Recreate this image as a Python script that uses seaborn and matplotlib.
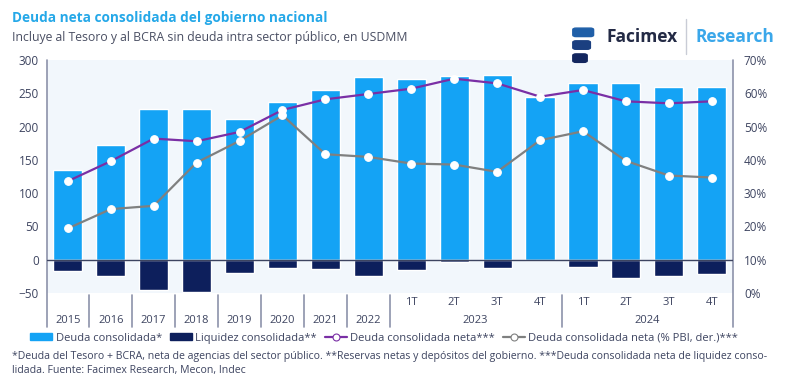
import numpy as np
import pandas as pd
import matplotlib
matplotlib.use('Agg')
import matplotlib.pyplot as plt
from matplotlib.lines import Line2D
from matplotlib.patches import Patch, FancyBboxPatch
import matplotlib.transforms as mtransforms
import seaborn as sns

# ---------------- datos ----------------
periodos = ['2015', '2016', '2017', '2018', '2019', '2020', '2021', '2022',
            '2023-1T', '2023-2T', '2023-3T', '2023-4T',
            '2024-1T', '2024-2T', '2024-3T', '2024-4T']
etiquetas_anuales = ['2015', '2016', '2017', '2018', '2019', '2020', '2021', '2022']
etiquetas_trim = ['1T', '2T', '3T', '4T', '1T', '2T', '3T', '4T']
anios_trim = ['2023', '2024']

deuda = [135, 173, 227, 226, 212, 237, 255, 274,
         272, 276, 277, 245, 266, 266, 259, 259]
liquidez = [-17, -25, -45, -48, -20, -12, -14, -25,
            -15, -4, -12, 0, -11, -28, -24, -21]
deuda_neta = [118, 148, 182, 178, 192, 225, 241, 249,
              257, 272, 265, 245, 255, 238, 235, 238]
deuda_pbi = [19.4, 25.2, 26.2, 39.2, 45.7, 53.4, 41.7, 40.9,
             38.9, 38.6, 36.4, 45.9, 48.6, 39.7, 35.3, 34.7]

df = pd.DataFrame({'periodo': periodos, 'deuda': deuda, 'liquidez': liquidez})
pos = np.arange(len(periodos))

# ---------------- estilo ----------------
AZUL = '#14a3f5'
NAVY = '#0d1f5c'
VIOLETA = '#7a2fa5'
GRIS = '#7f8080'
TEXTO = '#3d4460'
EJE = '#8c92aa'
FONDO = '#f2f7fc'

sns.set_style('white')
plt.rcParams['font.family'] = ['Open Sans', 'DejaVu Sans']

fig = plt.figure(figsize=(8, 3.85), dpi=100)
ax = fig.add_axes([0.059, 0.239, 0.857, 0.605])
ax.set_facecolor(FONDO)

sns.barplot(data=df, x='periodo', y='deuda', color=AZUL, width=0.68,
            saturation=1, ax=ax, zorder=2)
sns.barplot(data=df, x='periodo', y='liquidez', color=NAVY, width=0.68,
            saturation=1, ax=ax, zorder=2)
ax.axhline(0, color=TEXTO, lw=1, zorder=3)

sns.lineplot(x=pos, y=deuda_neta, color=VIOLETA, lw=1.6, marker='o',
             markersize=5.5, markerfacecolor='white', markeredgecolor='white',
             markeredgewidth=0.8, ax=ax, zorder=4)

ax.set_xlim(-0.48, 15.49)
ax.set_ylim(-50, 300)
ax.set_yticks(np.arange(-50, 301, 50))
ax.set_xticks([])
ax.set_xlabel('')
ax.set_ylabel('')
ax.tick_params(axis='y', length=0, pad=6, labelsize=8.5, labelcolor=TEXTO)
for s in ax.spines.values():
    s.set_visible(False)

ax2 = ax.twinx()
sns.lineplot(x=pos, y=deuda_pbi, color=GRIS, lw=1.6, marker='o',
             markersize=5.5, markerfacecolor='white', markeredgecolor='white',
             markeredgewidth=0.8, ax=ax2, zorder=4)
ax2.set_ylim(0, 70)
ax2.set_yticks(np.arange(0, 71, 10))
ax2.set_yticklabels([f'{v}%' for v in range(0, 71, 10)])
ax2.tick_params(axis='y', length=0, pad=8, labelsize=8.5, labelcolor=TEXTO)
for s in ax2.spines.values():
    s.set_visible(False)
ax2.set_xlim(ax.get_xlim())

# ---------------- eje de categorías ----------------
trans = mtransforms.blended_transform_factory(ax.transData, ax.transAxes)
abajo = -0.146
for xb in [-0.48, 15.49]:
    ax.add_line(Line2D([xb, xb], [abajo, 1.0], transform=trans, color=EJE,
                       lw=1.2, clip_on=False))
for xb in np.arange(0.5, 8.0, 1.0):
    ax.add_line(Line2D([xb, xb], [abajo, -0.01], transform=trans, color=EJE,
                       lw=1.2, clip_on=False))
ax.add_line(Line2D([11.5, 11.5], [abajo, -0.01], transform=trans, color=EJE,
                   lw=1.2, clip_on=False))

for i, lab in enumerate(etiquetas_anuales):
    ax.text(i, -0.12, lab, transform=trans, ha='center', va='center',
            fontsize=8, color=TEXTO)
for i, lab in enumerate(etiquetas_trim):
    ax.text(8 + i, -0.04, lab, transform=trans, ha='center', va='center',
            fontsize=8, color=TEXTO)
for j, lab in enumerate(anios_trim):
    ax.text(9.5 + 4 * j, -0.12, lab, transform=trans, ha='center',
            va='center', fontsize=8, color=TEXTO)

# ---------------- leyenda ----------------
handles = [
    Patch(color=AZUL, label='Deuda consolidada*'),
    Patch(color=NAVY, label='Liquidez consolidada**'),
    Line2D([], [], color=VIOLETA, lw=1.6, marker='o', markersize=5,
           markerfacecolor='white', markeredgecolor=VIOLETA,
           markeredgewidth=0.8, label='Deuda consolidada neta***'),
    Line2D([], [], color=GRIS, lw=1.6, marker='o', markersize=5,
           markerfacecolor='white', markeredgecolor=GRIS,
           markeredgewidth=0.8, label='Deuda consolidada neta (% PBI, der.)***'),
]
fig.legend(handles=handles, loc='center left', bbox_to_anchor=(0.025, 0.122),
           ncol=4, frameon=False, fontsize=8.0, handlelength=2.0,
           handleheight=0.5, handletextpad=0.3, columnspacing=0.7,
           labelcolor=TEXTO)

# ---------------- textos ----------------
fig.text(0.015, 0.953, 'Deuda neta consolidada del gobierno nacional',
         fontsize=9.8, fontweight='bold', color='#25a8e8', va='center')
fig.text(0.015, 0.902,
         'Incluye al Tesoro y al BCRA sin deuda intra sector público, en USDMM',
         fontsize=8.8, color='#4a4f63', va='center')
fig.text(0.015, 0.073,
         '*Deuda del Tesoro + BCRA, neta de agencias del sector público. '
         '**Reservas netas y depósitos del gobierno. ***Deuda consolidada neta '
         'de liquidez conso-', fontsize=7.6, color=TEXTO, va='center')
fig.text(0.015, 0.038, 'lidada. Fuente: Facimex Research, Mecon, Indec',
         fontsize=7.6, color=TEXTO, va='center')

# logo
for k, (yy, w, c) in enumerate([(0.905, 0.026, '#1f5fa8'),
                                 (0.872, 0.022, '#1b3f80'),
                                 (0.838, 0.018, '#13265e')]):
    fig.patches.append(FancyBboxPatch((0.716, yy), w, 0.022,
                                      boxstyle='round,pad=0.0,rounding_size=0.004',
                                      transform=fig.transFigure, color=c))
fig.text(0.758, 0.905, 'Facimex', fontsize=12.5, fontweight='bold',
         color='#232a45', va='center')
fig.add_artist(Line2D([0.858, 0.858], [0.86, 0.95], color='#c9ccd6', lw=1,
                      transform=fig.transFigure))
fig.text(0.869, 0.905, 'Research', fontsize=12.5, fontweight='bold',
         color='#3aa7ea', va='center')

fig.savefig('out.png', dpi=100)
